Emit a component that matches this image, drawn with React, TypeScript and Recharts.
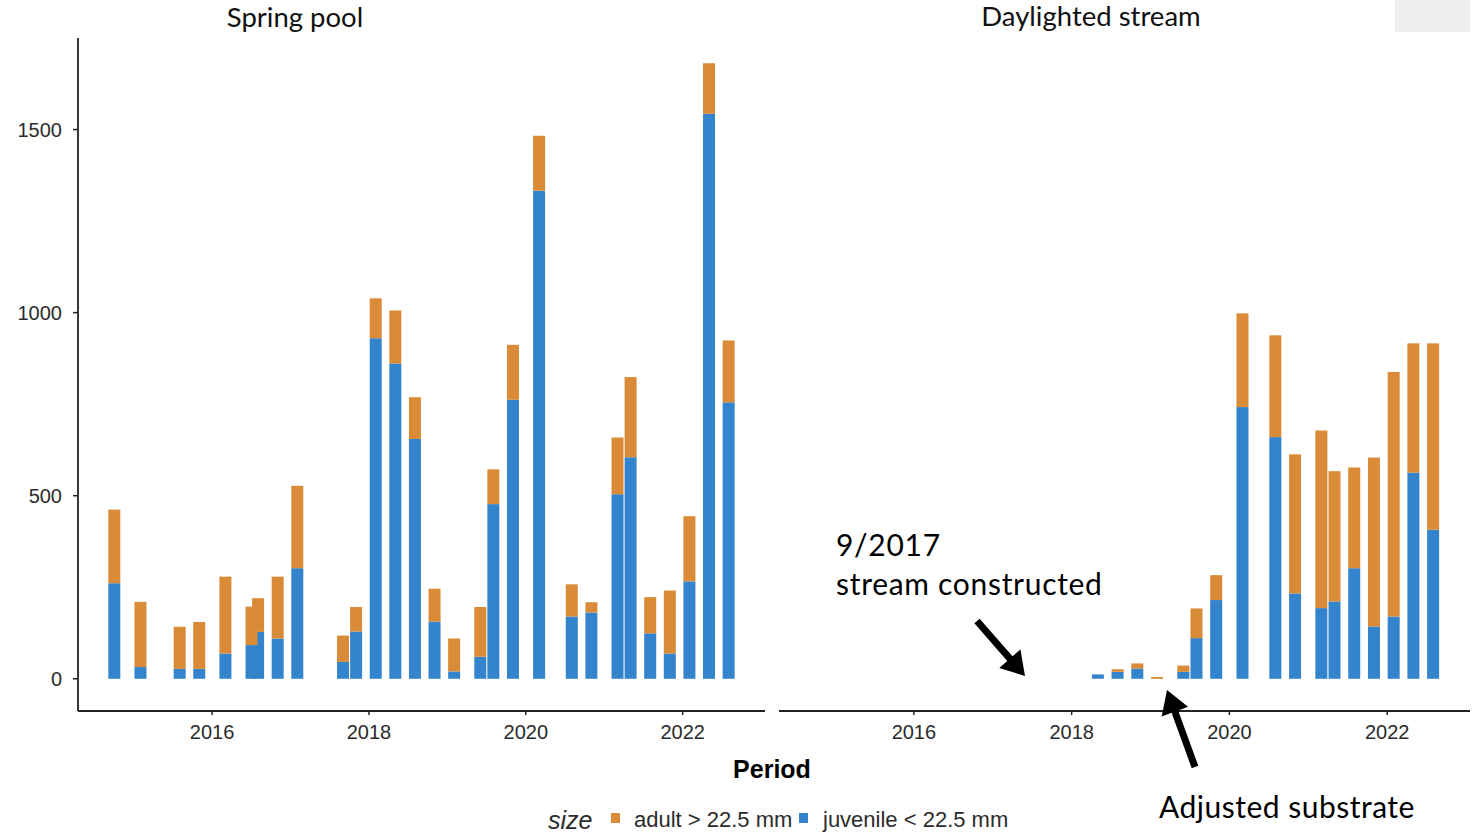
import React from "react";
import { BarChart, Bar, XAxis, YAxis } from "recharts";

const ORANGE = "#DA8B38";
const BLUE = "#3483CD";
const INK = "#2b2b2b";
const BAR_W = 12;

// Spring pool: sampling periods (YYYY-MM) and counts by size class
const poolPeriods = [
  "2014-10", "2015-02", "2015-08", "2015-11", "2016-03", "2016-07", "2016-08", "2016-11",
  "2017-02", "2017-09", "2017-11", "2018-02", "2018-05", "2018-08", "2018-11", "2019-02",
  "2019-06", "2019-08", "2019-11", "2020-03", "2020-08", "2020-11", "2021-03", "2021-05",
  "2021-08", "2021-11", "2022-02", "2022-05", "2022-08",
];
const poolJuvenile = [
  261, 32, 27, 27, 69, 92, 128, 110, 302, 46, 129, 930, 861, 655, 156, 20,
  60, 477, 762, 1333, 170, 181, 504, 605, 124, 69, 266, 1543, 755,
];
const poolAdult = [
  201, 178, 115, 128, 210, 105, 92, 169, 225, 72, 67, 109, 145, 114, 90, 90,
  136, 95, 150, 150, 88, 28, 155, 219, 99, 172, 178, 138, 169,
];

// Daylighted stream (built 9/2017)
const streamPeriods = [
  "2018-05", "2018-08", "2018-11", "2019-02", "2019-06", "2019-08", "2019-11", "2020-03",
  "2020-08", "2020-11", "2021-03", "2021-05", "2021-08", "2021-11", "2022-02", "2022-05",
  "2022-08",
];
const streamJuvenile = [12, 19, 28, 0, 19, 111, 215, 742, 660, 233, 193, 211, 302, 143, 170, 563, 407];
const streamAdult = [0, 7, 14, 5, 17, 81, 68, 256, 278, 380, 485, 356, 275, 461, 668, 353, 509];

const yearTicks = [2016, 2018, 2020, 2022];
const countTicks = [0, 500, 1000, 1500];

const toYear = (p: string) => {
  const [y, m] = p.split("-").map(Number);
  return y + (m - 1) / 12;
};

const build = (periods: string[], juv: number[], adult: number[]) =>
  periods.map((p, i) => ({ t: toYear(p), juvenile: juv[i], adult: adult[i] }));

const poolData = build(poolPeriods, poolJuvenile, poolAdult);
const streamData = build(streamPeriods, streamJuvenile, streamAdult);

const X_DOMAIN: [number, number] = [2014.29, 2023.05];
const Y_DOMAIN: [number, number] = [-88, 1750];

// fixed-width column centred on the date, whatever band size recharts picks
const Column = (props: any) => {
  const { x, y, width, height, fill } = props;
  if (!height) return null;
  const mid = x + width / 2;
  const top = Math.min(y, y + height);
  return <rect x={mid - BAR_W / 2} y={top} width={BAR_W} height={Math.abs(height)} fill={fill} />;
};

const tickStyle = { fontSize: 20, fill: INK, fontFamily: "'Liberation Sans', Arial, sans-serif" };
const axisLine = { stroke: "#222", strokeWidth: 1.8 };

function Panel({ data, showY, width, left }: { data: any[]; showY: boolean; width: number; left: number }) {
  return (
    <BarChart
      width={width}
      height={751}
      data={data}
      margin={{ top: 38, right: 5, left, bottom: 0 }}
      barCategoryGap={0}
    >
      <XAxis
        type="number"
        dataKey="t"
        domain={X_DOMAIN}
        allowDataOverflow
        ticks={yearTicks}
        tick={tickStyle}
        tickSize={4}
        tickMargin={10}
        height={40}
        axisLine={axisLine}
        tickLine={{ stroke: "#222", strokeWidth: 1.5 }}
      />
      <YAxis
        type="number"
        domain={Y_DOMAIN}
        allowDataOverflow
        ticks={countTicks}
        hide={!showY}
        width={78}
        tick={tickStyle}
        tickSize={5}
        tickMargin={11}
        axisLine={axisLine}
        tickLine={{ stroke: "#222", strokeWidth: 1.5 }}
      />
      <Bar dataKey="juvenile" stackId="n" fill={BLUE} shape={Column} isAnimationActive={false} />
      <Bar dataKey="adult" stackId="n" fill={ORANGE} shape={Column} isAnimationActive={false} />
    </BarChart>
  );
}

function arrow(x1: number, y1: number, x2: number, y2: number, shaft = 7, headLen = 23, headW = 28) {
  const len = Math.hypot(x2 - x1, y2 - y1);
  const ux = (x2 - x1) / len, uy = (y2 - y1) / len;
  const px = -uy, py = ux;
  const bx = x2 - ux * headLen, by = y2 - uy * headLen;
  const pts = [
    [x1 + (px * shaft) / 2, y1 + (py * shaft) / 2],
    [bx + (px * shaft) / 2, by + (py * shaft) / 2],
    [bx + (px * headW) / 2, by + (py * headW) / 2],
    [x2, y2],
    [bx - (px * headW) / 2, by - (py * headW) / 2],
    [bx - (px * shaft) / 2, by - (py * shaft) / 2],
    [x1 - (px * shaft) / 2, y1 - (py * shaft) / 2],
  ];
  return pts.map((p) => p.join(",")).join(" ");
}

const NOTE_FONT = "Lato, 'Open Sans', sans-serif";
const AXIS_FONT = "'Liberation Sans', Arial, sans-serif";

export default function App() {
  return (
    <div style={{ position: "absolute", left: 0, top: 0, width: 1481, height: 834, background: "#fff", overflow: "hidden" }}>
      <div style={{ position: "absolute", left: 0, top: 0 }}>
        <Panel data={poolData} showY width={770} left={0} />
      </div>
      <div style={{ position: "absolute", left: 770, top: 0 }}>
        <Panel data={streamData} showY={false} width={705} left={9} />
      </div>
      <svg width={1481} height={834} style={{ position: "absolute", left: 0, top: 0, pointerEvents: "none" }}>
        <rect x={1395} y={0} width={75} height={32} fill="#efefef" />
        <text x={295} y={27} textAnchor="middle" fontFamily={NOTE_FONT} fontSize={27.5} fill="#111">Spring pool</text>
        <text x={1091} y={26} textAnchor="middle" fontFamily={NOTE_FONT} fontSize={27.5} fill="#111">Daylighted stream</text>

        <text x={836} y={556} fontFamily={NOTE_FONT} fontSize={30} letterSpacing={0.7} fill="#000">9/2017</text>
        <text x={836} y={595} fontFamily={NOTE_FONT} fontSize={30} letterSpacing={0.7} fill="#000">stream constructed</text>
        <polygon points={arrow(977, 621, 1025, 676)} fill="#000" />
        <polygon points={arrow(1195, 767, 1167, 690)} fill="#000" />
        <text x={1159} y={818} fontFamily={NOTE_FONT} fontSize={30} letterSpacing={0.5} fill="#000">Adjusted substrate</text>

        <text x={772} y={778} textAnchor="middle" fontFamily={AXIS_FONT} fontWeight="bold" fontSize={25} fill="#000">Period</text>

        <text x={548} y={829} fontFamily={AXIS_FONT} fontStyle="italic" fontSize={25} fill={INK}>size</text>
        <rect x={611} y={813} width={9} height={10} fill={ORANGE} />
        <text x={634} y={827} fontFamily={AXIS_FONT} fontSize={22} fill={INK}>adult &gt; 22.5 mm</text>
        <rect x={799} y={813} width={9} height={10} fill={BLUE} />
        <text x={823} y={827} fontFamily={AXIS_FONT} fontSize={22} fill={INK}>juvenile &lt; 22.5 mm</text>
      </svg>
    </div>
  );
}
